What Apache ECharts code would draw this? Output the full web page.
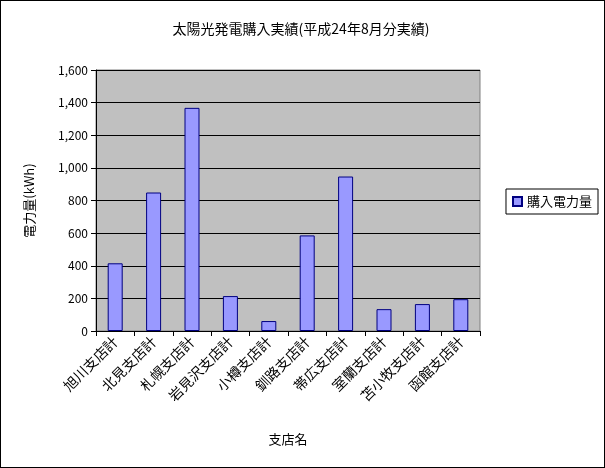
<!DOCTYPE html>
<html><head><meta charset="utf-8">
<script src="https://cdn.jsdelivr.net/npm/echarts@6/dist/echarts.min.js"></script>
<style>
html,body{margin:0;padding:0;background:#fff;}
#c{width:603px;height:466px;border:1px solid #000;}
</style></head>
<body><div id="c"></div>
<script>
let branches = ["旭川支店計","北見支店計","札幌支店計","岩見沢支店計","小樽支店計","釧路支店計","帯広支店計","室蘭支店計","苫小牧支店計","函館支店計"];
let purchased = [415, 849, 1368, 214, 61, 586, 947, 134, 165, 195];
let font = "'Noto Sans CJK JP', sans-serif";

let myEcharts = echarts.init(document.getElementById("c"));
myEcharts.setOption({
    animation:false,
    title:{
        text:"太陽光発電購入実績(平成24年8月分実績)",
        left:295, top:16, textAlign:"center",
        textStyle:{fontFamily:font, fontSize:14, fontWeight:"normal", color:"#000"}
    },
    legend:{
        right:6, top:188,
        orient:"vertical",
        icon:"rect",
        itemWidth:9, itemHeight:9,
        padding:[6,6],
        borderColor:"#000", borderWidth:1,
        textStyle:{fontFamily:font, fontSize:13, color:"#000"},
        data:["購入電力量"]
    },
    grid:{
        left:95, right:124, top:69, bottom:136,
        show:true, backgroundColor:"#c0c0c0", borderColor:"#808080", borderWidth:1
    },
    xAxis:{
        type:"category",
        data:branches,
        name:"支店名", nameLocation:"middle", nameGap:102,
        nameTextStyle:{fontFamily:font, fontSize:13, color:"#000"},
        axisLine:{lineStyle:{color:"#000"}},
        axisTick:{show:true, alignWithLabel:false, lineStyle:{color:"#000"}},
        axisLabel:{rotate:45, interval:0, fontFamily:font, fontSize:14, color:"#000", margin:8}
    },
    yAxis:{
        type:"value", min:0, max:1600, interval:200,
        name:"電力量(kWh)", nameLocation:"middle", nameGap:60, nameRotate:90,
        nameTextStyle:{fontFamily:font, fontSize:13, color:"#000"},
        axisLine:{show:true, lineStyle:{color:"#000"}},
        axisTick:{show:true, lineStyle:{color:"#000"}},
        axisLabel:{fontFamily:font, fontSize:12, color:"#000",
            formatter:function(v){return v.toLocaleString("en-US");}},
        splitLine:{lineStyle:{color:"#000", width:1}}
    },
    series:[{
        name:"購入電力量",
        type:"bar",
        data:purchased,
        barWidth:15,
        itemStyle:{color:"#9999ff", borderColor:"#000080", borderWidth:1}
    }]
});
</script></body></html>
